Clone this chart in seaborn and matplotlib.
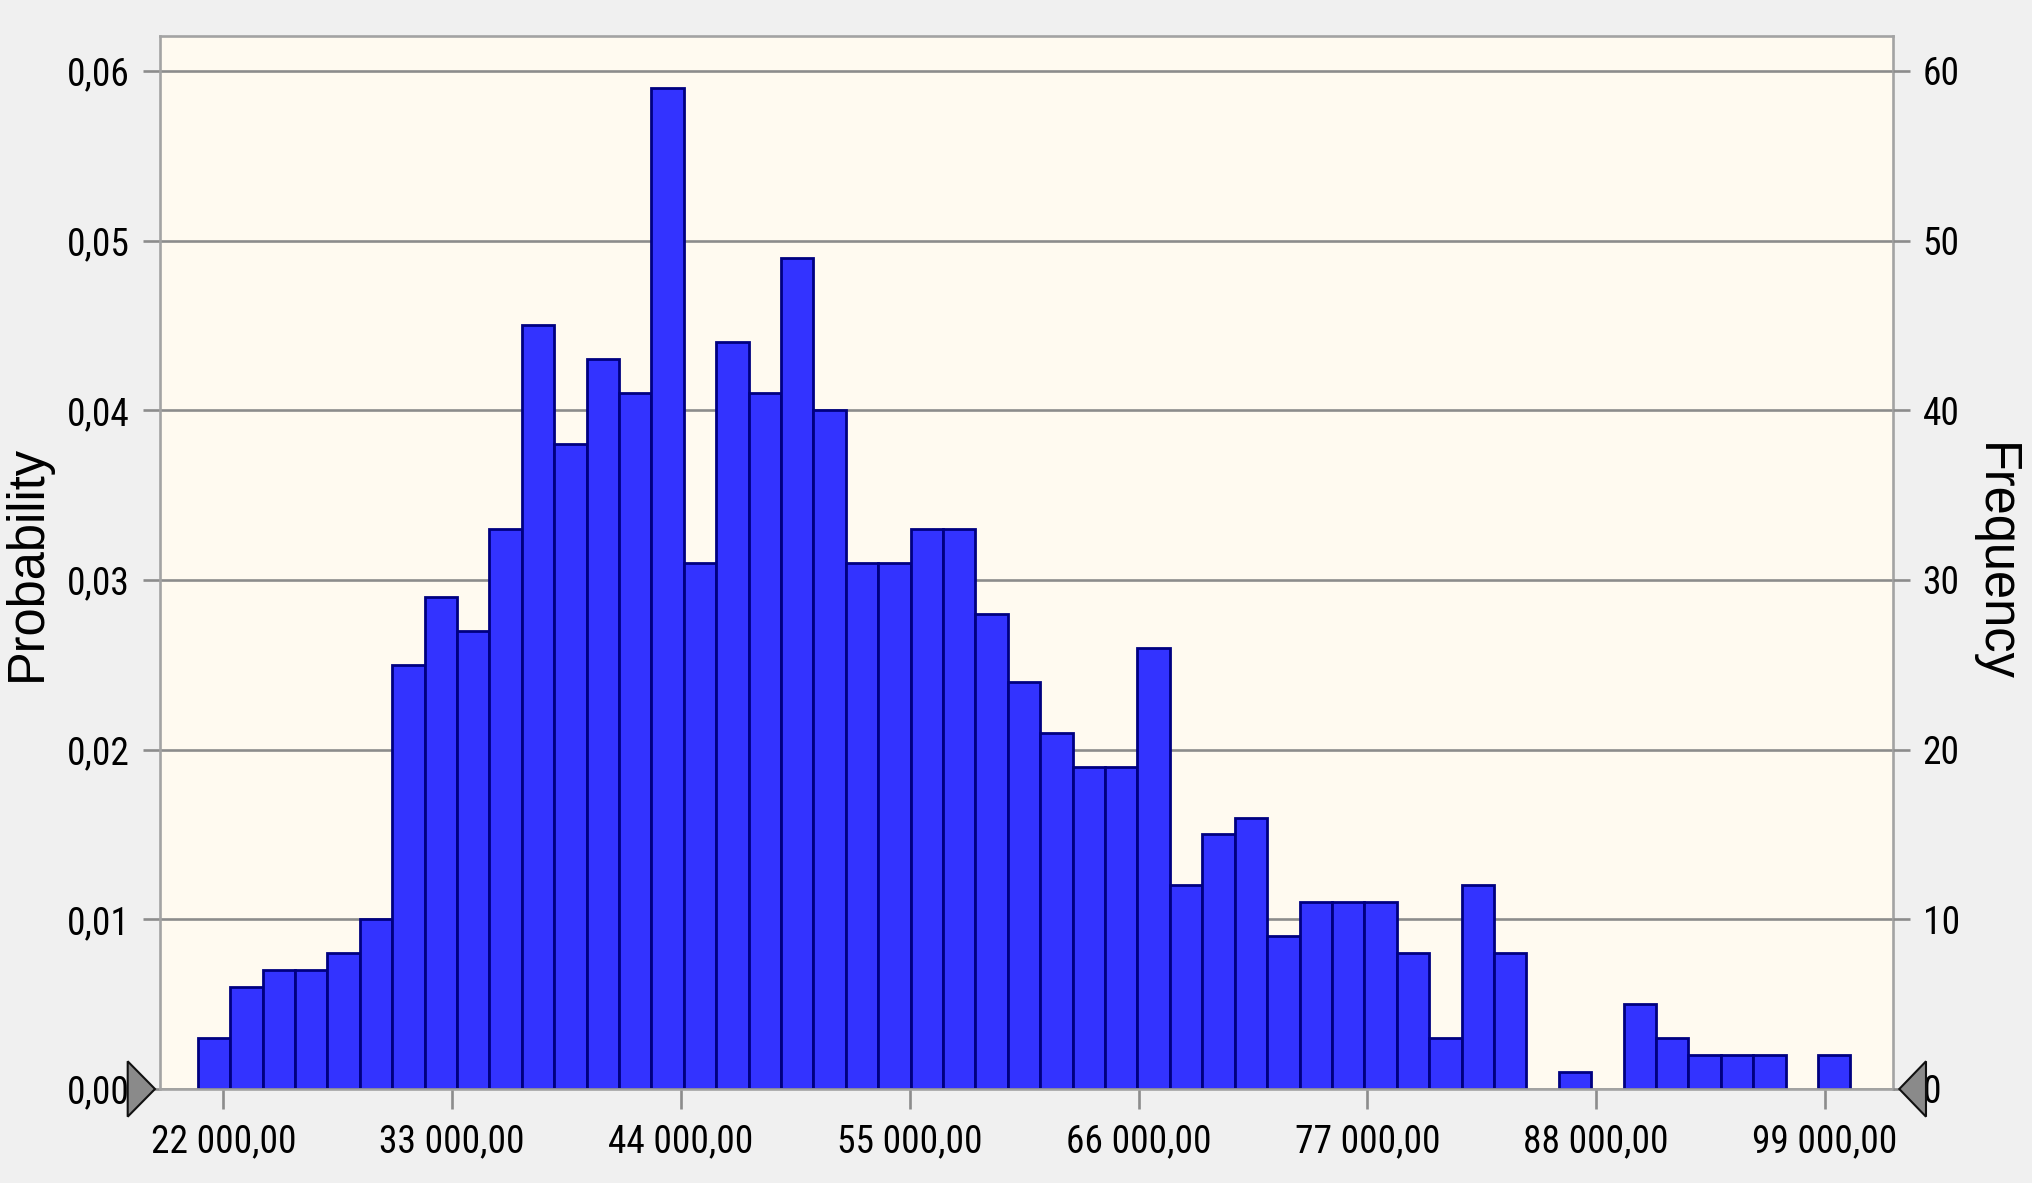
import numpy as np
import pandas as pd
import matplotlib
matplotlib.use("Agg")
import matplotlib.pyplot as plt
import matplotlib.transforms as mtransforms
from matplotlib import font_manager
from matplotlib.font_manager import FontProperties
from matplotlib.patches import Polygon
from matplotlib.ticker import FixedLocator, FuncFormatter
import seaborn as sns

# ---------------- data ----------------
counts = [3, 6, 7, 7, 8, 10, 25, 29, 27, 33,
          45, 38, 43, 41, 59, 31, 44, 41, 49, 40,
          31, 31, 33, 33, 28, 24, 21, 19, 19, 26,
          12, 15, 16, 9, 11, 11, 11, 8, 3, 12,
          8, 0, 1, 0, 5, 3, 2, 2, 2, 0, 2]
total_trials = 1000
bin_start = 20769
bin_width = 1558
x_ticks = [22000, 33000, 44000, 55000, 66000, 77000, 88000, 99000]
prob_ticks = [0.00, 0.01, 0.02, 0.03, 0.04, 0.05, 0.06]
freq_ticks = [0, 10, 20, 30, 40, 50, 60]
x_limits = (18942, 102288)
prob_max = 0.06206


def fmt_x(v, _=None):
    return f"{v:,.2f}".replace(",", " ").replace(".", ",")


# ---------------- fonts ----------------
ttf = font_manager.fontManager.ttflist
names = {f.name for f in ttf}


def has_condensed(name):
    return any(f.name == name and str(f.stretch) in ("condensed", "semi-condensed", "75", "87")
               and f.style == "normal" for f in ttf)


tick_family, tick_stretch = "Liberation Sans", "normal"
if "Liberation Sans Narrow" in names:
    tick_family, tick_stretch = "Liberation Sans Narrow", "normal"
elif "Roboto Condensed" in names:
    tick_family, tick_stretch = "Roboto Condensed", "normal"
else:
    for cand in ["Roboto", "Noto Sans", "Open Sans", "DejaVu Sans"]:
        if has_condensed(cand):
            tick_family, tick_stretch = cand, "condensed"
            break
    else:
        if "Liberation Sans" not in names:
            tick_family = "DejaVu Sans"
label_family = "Liberation Sans" if "Liberation Sans" in names else "DejaVu Sans"
plt.rcParams["font.family"] = [tick_family, "DejaVu Sans"]
plt.rcParams["font.stretch"] = tick_stretch

FIG_BG = "#F0F0F0"
PLOT_BG = "#FFFAF0"
BAR_FILL = "#3333FF"
BAR_EDGE = "#000080"
GRID = "#8C8C8C"
SPINE = "#A3A3A3"

fig = plt.figure(figsize=(20.33, 11.83), dpi=100, facecolor=FIG_BG)
renderer = fig.canvas.get_renderer()


def size_for(text, target_px, family, stretch, cap):
    fp = FontProperties(family=family, stretch=stretch, size=20)
    t = fig.text(0, 0, text, fontproperties=fp)
    w = t.get_window_extent(renderer).width
    t.remove()
    return min(cap, 20 * target_px / w)


tick_size = size_for(fmt_x(22000), 146, tick_family, tick_stretch, 28)
lab_size = (size_for("Probability", 233, label_family, "normal", 38)
            + size_for("Frequency", 241, label_family, "normal", 38)) / 2

ax = fig.add_axes([0.07855, 0.07946, 0.85273, 0.89011])
ax.set_facecolor(PLOT_BG)

n_bins = len(counts)
bin_end = bin_start + bin_width * n_bins
centers = bin_start + bin_width * (np.arange(n_bins) + 0.5)
df = pd.DataFrame({"value": centers,
                   "probability": np.array(counts, dtype=float) / total_trials})

sns.histplot(data=df, x="value", weights="probability",
             binwidth=bin_width, binrange=(bin_start, bin_end), stat="count",
             color=BAR_FILL, edgecolor=BAR_EDGE, linewidth=2.0, alpha=1.0, ax=ax,
             zorder=2)
for p in ax.patches:
    if p.get_height() == 0:
        p.set_visible(False)

ax.set_xlim(*x_limits)
ax.set_ylim(0, prob_max)
ax.set_axisbelow(True)
ax.yaxis.grid(True, color=GRID, linewidth=1.9)
ax.xaxis.grid(False)

ax.xaxis.set_major_locator(FixedLocator(x_ticks))
ax.xaxis.set_major_formatter(FuncFormatter(fmt_x))
ax.yaxis.set_major_locator(FixedLocator(prob_ticks))
ax.yaxis.set_major_formatter(FuncFormatter(lambda v, _: f"{v:.2f}".replace(".", ",")))

ax.tick_params(axis="y", left=True, right=False, direction="out", length=12,
               width=1.9, color=GRID, pad=9.4, labelsize=tick_size, labelcolor="black")
ax.tick_params(axis="x", bottom=True, direction="out", length=14.4, width=1.9,
               color=GRID, pad=10, labelsize=tick_size, labelcolor="black")

for s in ax.spines.values():
    s.set_color(SPINE)
    s.set_linewidth(1.9)

ax.set_xlabel("")
ax.set_ylabel("Probability", fontsize=lab_size, fontfamily=label_family,
              fontstretch="normal", color="black")
ax.yaxis.label.set_va("center")
ax.yaxis.set_label_coords(-0.0765, 0.5)

ax2 = ax.twinx()
ax2.set_ylim(0, prob_max * total_trials)
ax2.yaxis.set_major_locator(FixedLocator(freq_ticks))
ax2.yaxis.set_major_formatter(FuncFormatter(lambda v, _: f"{v:.0f}"))
ax2.tick_params(axis="y", right=True, left=False, direction="out", length=12,
                width=1.9, color=GRID, pad=9.1, labelsize=tick_size, labelcolor="black")
for s in ax2.spines.values():
    s.set_visible(False)
ax2.set_ylabel("Frequency", fontsize=lab_size, fontfamily=label_family,
               fontstretch="normal", color="black", rotation=270)
ax2.yaxis.label.set_va("center")
ax2.yaxis.set_label_coords(1.0585, 0.5)

# decorative slider handles at the zero line
left_tr = fig.dpi_scale_trans + mtransforms.ScaledTranslation(0, 0, ax.transAxes)
right_tr = fig.dpi_scale_trans + mtransforms.ScaledTranslation(1, 0, ax.transAxes)
fig.add_artist(Polygon([(-0.32, 0.277), (-0.32, -0.277), (-0.047, 0.0)], closed=True,
                       transform=left_tr, facecolor="#8A8A8A", edgecolor="#111111",
                       linewidth=1.5))
fig.add_artist(Polygon([(0.327, 0.277), (0.327, -0.277), (0.06, 0.0)], closed=True,
                       transform=right_tr, facecolor="#8A8A8A", edgecolor="#111111",
                       linewidth=1.5))

fig.savefig("out.png", dpi=100, facecolor=FIG_BG)
